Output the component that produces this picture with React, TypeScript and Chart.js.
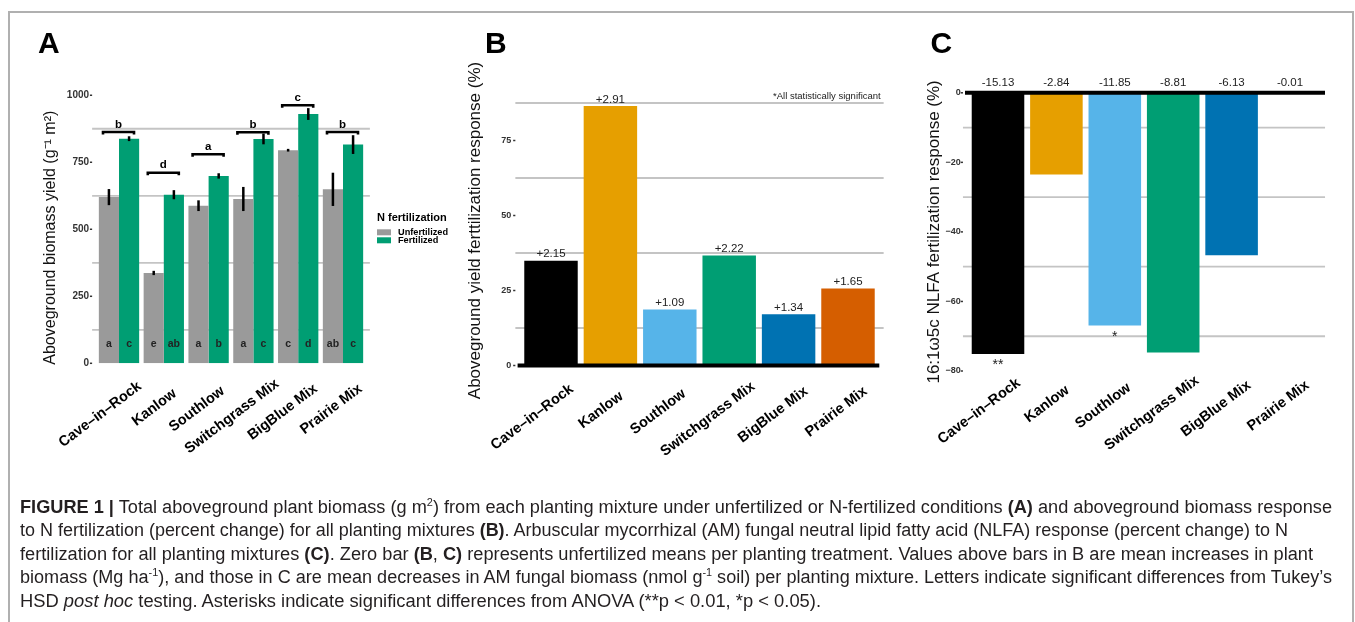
import React, { useEffect, useLayoutEffect, useRef } from 'react';
import { Chart, registerables } from 'chart.js';

Chart.register(...registerables);

// ---------------- data ----------------
const categories = ['Cave–in–Rock', 'Kanlow', 'Southlow', 'Switchgrass Mix', 'BigBlue Mix', 'Prairie Mix'];

// Panel A: aboveground biomass (g m-2)
const unfertilized = [620, 337, 588, 613, 795, 649];
const fertilized = [838, 629, 699, 837, 930, 816];
const unfertilizedSE = [30, 8, 20, 45, 5, 62];
const fertilizedSE = [9, 17, 10, 20, 22, 35];
const unfertilizedLetters = ['a', 'e', 'a', 'a', 'c', 'ab'];
const fertilizedLetters = ['c', 'ab', 'b', 'c', 'd', 'c'];
const groupLetters = ['b', 'd', 'a', 'b', 'c', 'b'];
const groupBracketValues = [863, 711, 780, 862, 963, 863];
const ticksA = [0, 250, 500, 750, 1000];
const gridA = [125, 375, 625, 875];
const legendTitle = 'N fertilization';

// Panel B: yield fertilization response (%)
const yieldResponse = [34.9, 86.5, 18.7, 36.7, 17.1, 25.7];
const yieldIncrease = ['+2.15', '+2.91', '+1.09', '+2.22', '+1.34', '+1.65'];
const ticksB = [0, 25, 50, 75];
const gridB = [12.5, 37.5, 62.5, 87.5];

// Panel C: 16:1w5c NLFA fertilization response (%)
const nlfaResponse = [-75.1, -23.5, -66.9, -74.7, -46.7, -0.3];
const nlfaDecrease = ['-15.13', '-2.84', '-11.85', '-8.81', '-6.13', '-0.01'];
const nlfaSignificance = ['**', '', '*', '', '', ''];
const ticksC = [0, -20, -40, -60, -80];
const gridC = [-10, -30, -50, -70];

const mixColors = ['#000000', '#E69F00', '#56B4E9', '#009E73', '#0072B2', '#D55E00'];

// ---------------- layout / style ----------------
const W = 1355;
const H = 622;
const FF = "'Liberation Sans', Arial, Helvetica, sans-serif";
const GRID = '#c4c4c4';
const X_AXIS_H = 100;
const X_FONT = 14.5;

type Area = { left: number; right: number; top: number; bottom: number };
const areaA: Area = { left: 96.6, right: 365.4, top: 89.9, bottom: 363.3 };
const areaB: Area = { left: 521.3, right: 877.7, top: 95.5, bottom: 365.5 };
const areaC: Area = { left: 968.8, right: 1319.2, top: 92.8, bottom: 371 };

function layoutPadding(area: Area, axisLeft: number) {
  return { left: axisLeft, right: W - area.right, top: area.top, bottom: H - area.bottom - X_AXIS_H };
}

let measureCtx: CanvasRenderingContext2D | null = null;
function textWidth(text: string, font: string) {
  if (!measureCtx) measureCtx = document.createElement('canvas').getContext('2d');
  measureCtx!.font = font;
  return measureCtx!.measureText(text).width;
}

// emulate ggplot's partial horizontal justification of rotated labels
function hjustLabel(i: number) {
  const font = `bold ${X_FONT}px ${FF}`;
  const widths = categories.map((c) => textWidth(c, font));
  const maxW = Math.max(...widths);
  const sp = textWidth(' ', font);
  const n = Math.max(0, Math.round((0.25 * (maxW - widths[i])) / sp));
  return categories[i] + ' '.repeat(n);
}

function line(ctx: CanvasRenderingContext2D, x1: number, y1: number, x2: number, y2: number) {
  ctx.beginPath();
  ctx.moveTo(x1, y1);
  ctx.lineTo(x2, y2);
  ctx.stroke();
}

function xAxis(labelPadding: number) {
  return {
    type: 'category',
    offset: true,
    grid: { display: false, drawTicks: false },
    border: { display: false },
    afterFit: (s: any) => {
      s.height = X_AXIS_H;
    },
    ticks: {
      autoSkip: false,
      minRotation: 37,
      maxRotation: 37,
      labelOffset: 24,
      padding: labelPadding,
      color: '#000',
      font: { family: FF, size: X_FONT, weight: 'bold' },
      callback: (_v: any, i: number) => hjustLabel(i),
    },
  };
}

function yAxis(o: {
  min: number; max: number; ticks: number[]; width: number; title: string;
  titleSize: number; titlePad: number; tickSize: number; tickPad: number; fmt: (v: number) => string;
}) {
  return {
    min: o.min,
    max: o.max,
    grid: { display: false, drawTicks: false },
    border: { display: false },
    afterBuildTicks: (s: any) => {
      s.ticks = o.ticks.map((v) => ({ value: v }));
    },
    afterFit: (s: any) => {
      s.width = o.width;
    },
    ticks: {
      padding: o.tickPad,
      color: '#333',
      font: { family: FF, size: o.tickSize, weight: 'bold' },
      callback: (v: any) => o.fmt(Number(v)),
    },
    title: {
      display: true,
      text: o.title,
      color: '#111',
      font: { family: FF, size: o.titleSize },
      padding: { top: o.titlePad, bottom: 0 },
    },
  };
}

function drawGridAndTicks(chart: any, grid: number[], ticks: number[]) {
  const { ctx, chartArea: a, scales: { y } } = chart;
  const ext = (0.1 * (a.right - a.left)) / categories.length;
  ctx.save();
  ctx.strokeStyle = GRID;
  ctx.lineWidth = 1.8;
  grid.forEach((v) => {
    const py = y.getPixelForValue(v);
    line(ctx, a.left - ext, py, a.right + ext, py);
  });
  ctx.strokeStyle = '#333';
  ctx.lineWidth = 1.5;
  ticks.forEach((v) => {
    const py = y.getPixelForValue(v);
    line(ctx, a.left - ext - 2.2, py, a.left - ext, py);
  });
  ctx.restore();
}

function panelLetter(ctx: CanvasRenderingContext2D, letter: string, x: number) {
  ctx.save();
  ctx.fillStyle = '#000';
  ctx.font = `bold 30px ${FF}`;
  ctx.textAlign = 'left';
  ctx.textBaseline = 'alphabetic';
  ctx.fillText(letter, x, 53.3);
  ctx.restore();
}

// ---------------- plugins ----------------
const panelAPlugin = {
  id: 'panelA',
  beforeDatasetsDraw(chart: any) {
    drawGridAndTicks(chart, gridA, ticksA);
  },
  afterDatasetsDraw(chart: any) {
    const { ctx, chartArea: a, scales: { y } } = chart;
    const m0 = chart.getDatasetMeta(0).data;
    const m1 = chart.getDatasetMeta(1).data;
    ctx.save();
    // error bars
    ctx.strokeStyle = '#000';
    ctx.lineWidth = 2.5;
    categories.forEach((_, i) => {
      line(ctx, m0[i].x, y.getPixelForValue(unfertilized[i] - unfertilizedSE[i]), m0[i].x, y.getPixelForValue(unfertilized[i] + unfertilizedSE[i]));
      line(ctx, m1[i].x, y.getPixelForValue(fertilized[i] - fertilizedSE[i]), m1[i].x, y.getPixelForValue(fertilized[i] + fertilizedSE[i]));
    });
    // letters inside bars
    const base = y.getPixelForValue(0);
    ctx.fillStyle = '#222';
    ctx.font = `bold 10.5px ${FF}`;
    ctx.textAlign = 'center';
    ctx.textBaseline = 'middle';
    categories.forEach((_, i) => {
      ctx.fillText(unfertilizedLetters[i], m0[i].x, base - 19);
      ctx.fillText(fertilizedLetters[i], m1[i].x, base - 19);
    });
    // group brackets
    ctx.fillStyle = '#000';
    ctx.strokeStyle = '#000';
    ctx.lineWidth = 2.6;
    ctx.font = `bold 11.5px ${FF}`;
    categories.forEach((_, i) => {
      const cx = (m0[i].x + m1[i].x) / 2 - 0.5;
      const by = y.getPixelForValue(groupBracketValues[i]);
      ctx.beginPath();
      ctx.moveTo(cx - 15.5, by + 2.6);
      ctx.lineTo(cx - 15.5, by);
      ctx.lineTo(cx + 15.5, by);
      ctx.lineTo(cx + 15.5, by + 2.6);
      ctx.stroke();
      ctx.fillText(groupLetters[i], cx, by - 7.5);
    });
    // legend
    const lx = a.right + 11.6;
    ctx.textAlign = 'left';
    ctx.textBaseline = 'middle';
    ctx.fillStyle = '#000';
    ctx.font = `bold 11px ${FF}`;
    ctx.fillText(legendTitle, lx, 218.3);
    chart.data.datasets.forEach((ds: any, k: number) => {
      const top = 229.3 + k * 8;
      ctx.fillStyle = ds.backgroundColor;
      ctx.fillRect(lx, top, 14, 6);
      ctx.fillStyle = '#000';
      ctx.font = `bold 9.2px ${FF}`;
      ctx.fillText(ds.label, lx + 21, top + 3);
    });
    ctx.restore();
    panelLetter(ctx, 'A', 38);
  },
};

const panelBPlugin = {
  id: 'panelB',
  beforeDatasetsDraw(chart: any) {
    drawGridAndTicks(chart, gridB, ticksB);
  },
  afterDatasetsDraw(chart: any) {
    const { ctx, chartArea: a, scales: { y } } = chart;
    const meta = chart.getDatasetMeta(0).data;
    const y0 = y.getPixelForValue(0);
    ctx.save();
    ctx.strokeStyle = '#000';
    ctx.lineWidth = 4;
    line(ctx, a.left - 3.7, y0, a.right + 1.6, y0);
    ctx.fillStyle = '#222';
    ctx.font = `11.5px ${FF}`;
    ctx.textAlign = 'center';
    ctx.textBaseline = 'middle';
    meta.forEach((el: any, i: number) => ctx.fillText(yieldIncrease[i], el.x, el.y - 6.5));
    ctx.font = `9.5px ${FF}`;
    ctx.textAlign = 'right';
    ctx.fillText('*All statistically significant', a.right + 3, a.top + 1.2);
    ctx.restore();
    panelLetter(ctx, 'B', 485);
  },
};

const panelCPlugin = {
  id: 'panelC',
  beforeDatasetsDraw(chart: any) {
    drawGridAndTicks(chart, gridC, ticksC);
  },
  afterDatasetsDraw(chart: any) {
    const { ctx, chartArea: a, scales: { y } } = chart;
    const meta = chart.getDatasetMeta(0).data;
    const y0 = y.getPixelForValue(0);
    ctx.save();
    ctx.strokeStyle = '#000';
    ctx.lineWidth = 4;
    line(ctx, a.left - 3.8, y0, a.right + 5.8, y0);
    ctx.fillStyle = '#222';
    ctx.font = `11.5px ${FF}`;
    ctx.textAlign = 'center';
    ctx.textBaseline = 'middle';
    meta.forEach((el: any, i: number) => ctx.fillText(nlfaDecrease[i], el.x, y0 - 9.5));
    ctx.font = `14px ${FF}`;
    ctx.textBaseline = 'alphabetic';
    meta.forEach((el: any, i: number) => {
      if (nlfaSignificance[i]) ctx.fillText(nlfaSignificance[i], el.x, el.y + 15.5);
    });
    ctx.restore();
    panelLetter(ctx, 'C', 930.5);
  },
};

const baseOptions = {
  responsive: false,
  maintainAspectRatio: false,
  animation: false,
  events: [],
};

function buildA() {
  return {
    type: 'bar',
    data: {
      labels: categories,
      datasets: [
        { label: 'Unfertilized', data: unfertilized, backgroundColor: '#9a9a9a', categoryPercentage: 0.9, barPercentage: 1 },
        { label: 'Fertilized', data: fertilized, backgroundColor: '#009E73', categoryPercentage: 0.9, barPercentage: 1 },
      ],
    },
    options: {
      ...baseOptions,
      layout: { padding: layoutPadding(areaA, 10) },
      plugins: { legend: { display: false }, tooltip: { enabled: false } },
      scales: {
        x: xAxis(12),
        y: yAxis({
          min: 0, max: 1020, ticks: ticksA, width: areaA.left - 10,
          title: 'Aboveground biomass yield (g⁻¹ m²)     ', titleSize: 16, titlePad: 31.4,
          tickSize: 10, tickPad: 7.5, fmt: (v) => String(v),
        }),
      },
    },
    plugins: [panelAPlugin],
  };
}

function buildB() {
  return {
    type: 'bar',
    data: {
      labels: categories,
      datasets: [
        { label: 'Yield response', data: yieldResponse, backgroundColor: mixColors, categoryPercentage: 0.9, barPercentage: 1 },
      ],
    },
    options: {
      ...baseOptions,
      layout: { padding: layoutPadding(areaB, 460) },
      plugins: { legend: { display: false }, tooltip: { enabled: false } },
      scales: {
        x: xAxis(12.5),
        y: yAxis({
          min: 0, max: 90, ticks: ticksB, width: areaB.left - 460,
          title: 'Aboveground yield ferttilization response (%)', titleSize: 17, titlePad: 4.8,
          tickSize: 9, tickPad: 10, fmt: (v) => String(v),
        }),
      },
    },
    plugins: [panelBPlugin],
  };
}

function buildC() {
  return {
    type: 'bar',
    data: {
      labels: categories,
      datasets: [
        { label: 'NLFA response', data: nlfaResponse, backgroundColor: mixColors, categoryPercentage: 0.9, barPercentage: 1 },
      ],
    },
    options: {
      ...baseOptions,
      layout: { padding: layoutPadding(areaC, 900) },
      plugins: { legend: { display: false }, tooltip: { enabled: false } },
      scales: {
        x: xAxis(1),
        y: yAxis({
          min: -80, max: 0, ticks: ticksC, width: areaC.left - 900,
          title: '16:1ω5c NLFA fertilization response (%)', titleSize: 17, titlePad: 23.8,
          tickSize: 9, tickPad: 8, fmt: (v) => (v < 0 ? '−' + Math.abs(v) : String(v)),
        }),
      },
    },
    plugins: [panelCPlugin],
  };
}

function ChartCanvas({ build }: { build: () => any }) {
  const ref = useRef<HTMLCanvasElement>(null);
  useEffect(() => {
    const chart = new Chart(ref.current as HTMLCanvasElement, build() as any);
    return () => chart.destroy();
  }, []);
  return (
    <canvas
      ref={ref}
      width={W}
      height={H}
      style={{ position: 'absolute', left: 0, top: 0, width: W, height: H }}
    />
  );
}

const supStyle: React.CSSProperties = { fontSize: '0.6em', verticalAlign: 'super', lineHeight: 0 };

// right edge (page x) at which each caption line ends in the reference
const captionLineEnds = [1332, 1288, 1313, 1332, 821];
const CAPTION_LEFT = 20;

function Caption() {
  const spans = useRef<(HTMLSpanElement | null)[]>([]);
  useLayoutEffect(() => {
    spans.current.forEach((s, i) => {
      if (!s) return;
      s.style.transform = 'none';
      const w = s.getBoundingClientRect().width;
      if (w > 0) s.style.transform = `scaleX(${(captionLineEnds[i] - CAPTION_LEFT) / w})`;
    });
  }, []);
  const lineStyle = (i: number): React.CSSProperties => ({
    position: 'absolute',
    left: 0,
    top: i * 23.4,
    height: 23.4,
    lineHeight: '23.4px',
    whiteSpace: 'nowrap',
  });
  const spanStyle: React.CSSProperties = { display: 'inline-block', transformOrigin: '0 0' };
  const setRef = (i: number) => (el: HTMLSpanElement | null) => {
    spans.current[i] = el;
  };
  return (
    <div
      style={{
        position: 'absolute',
        left: CAPTION_LEFT,
        top: 496,
        width: 1400,
        fontFamily: "'Liberation Sans Narrow', 'Liberation Sans', Arial, sans-serif",
        fontSize: 18,
        color: '#231f20',
      }}
    >
      <div style={lineStyle(0)}>
        <span ref={setRef(0)} style={spanStyle}>
          <b>FIGURE 1 |</b> Total aboveground plant biomass (g m<span style={supStyle}>2</span>) from each planting mixture
          under unfertilized or N-fertilized conditions <b>(A)</b> and aboveground biomass response
        </span>
      </div>
      <div style={lineStyle(1)}>
        <span ref={setRef(1)} style={spanStyle}>
          to N fertilization (percent change) for all planting mixtures <b>(B)</b>. Arbuscular mycorrhizal (AM) fungal
          neutral lipid fatty acid (NLFA) response (percent change) to N
        </span>
      </div>
      <div style={lineStyle(2)}>
        <span ref={setRef(2)} style={spanStyle}>
          fertilization for all planting mixtures <b>(C)</b>. Zero bar <b>(B</b>, <b>C)</b> represents unfertilized means per
          planting treatment. Values above bars in B are mean increases in plant
        </span>
      </div>
      <div style={lineStyle(3)}>
        <span ref={setRef(3)} style={spanStyle}>
          biomass (Mg ha<span style={supStyle}>-1</span>), and those in C are mean decreases in AM fungal biomass (nmol g
          <span style={supStyle}>-1</span> soil) per planting mixture. Letters indicate significant differences from Tukey’s
        </span>
      </div>
      <div style={lineStyle(4)}>
        <span ref={setRef(4)} style={spanStyle}>
          HSD <i>post hoc</i> testing. Asterisks indicate significant differences from ANOVA (**p &lt; 0.01, *p &lt; 0.05).
        </span>
      </div>
    </div>
  );
}

export default function App() {
  return (
    <div
      style={{
        position: 'fixed',
        left: 0,
        top: 0,
        width: W,
        height: H,
        overflow: 'hidden',
        background: '#fff',
        fontFamily: FF,
      }}
    >
      <div
        style={{
          position: 'absolute',
          left: 8,
          top: 11,
          width: 1346,
          height: 700,
          border: '2px solid #b0b0b0',
          boxSizing: 'border-box',
        }}
      />
      <ChartCanvas build={buildA} />
      <ChartCanvas build={buildB} />
      <ChartCanvas build={buildC} />
      <Caption />
    </div>
  );
}
